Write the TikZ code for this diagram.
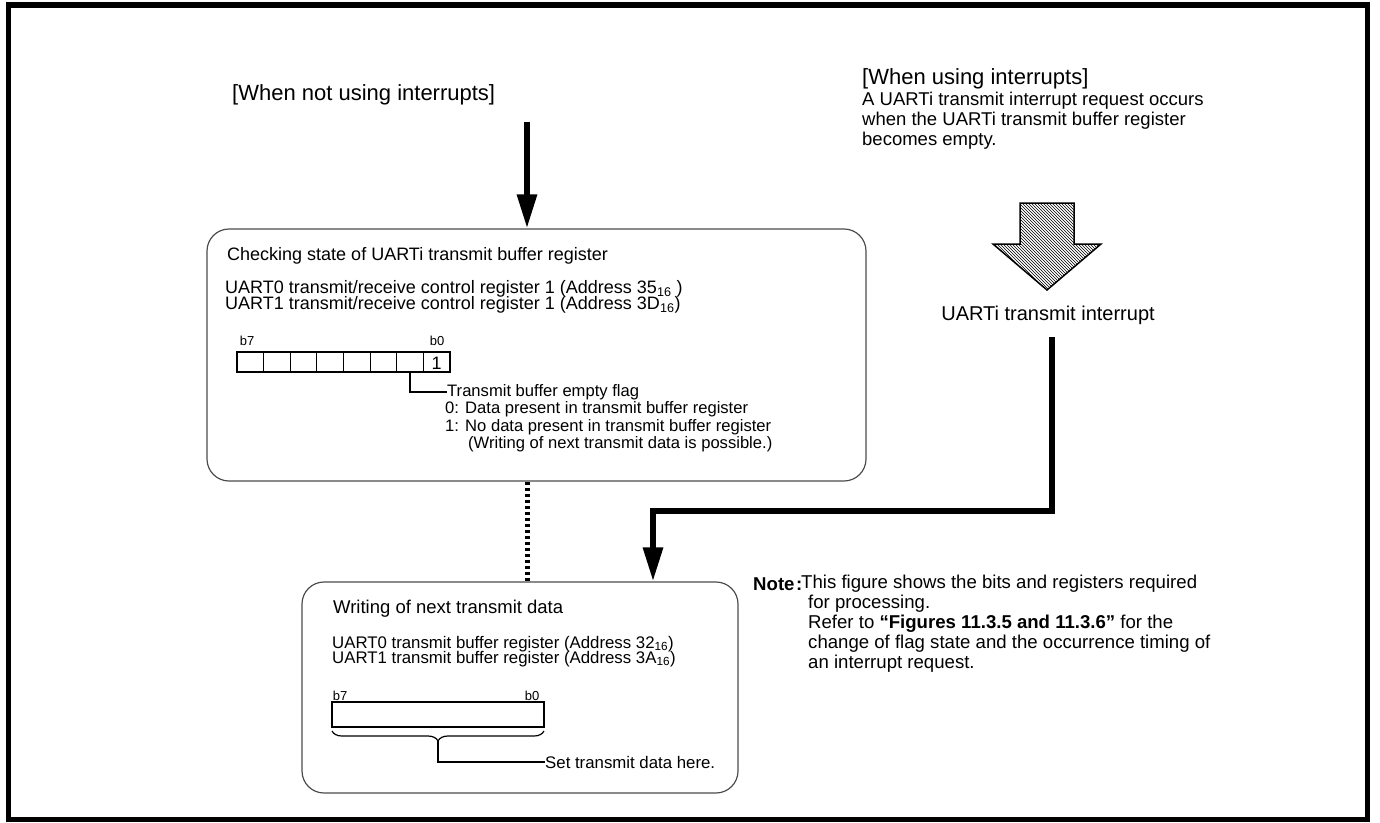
\documentclass[tikz,border=0pt]{standalone}
\usepackage{fontspec}
\setmainfont{Liberation Sans}
\usetikzlibrary{arrows.meta,patterns,decorations.pathreplacing}
\newcommand{\hexsub}[1]{\textsubscript{#1}}

\begin{document}
\begin{tikzpicture}[x=1pt,y=-1pt,
  txt/.style={anchor=west, inner sep=0pt},
  fhead/.style={font=\fontsize{22}{25}\selectfont},
  fbox/.style={font=\fontsize{18}{21}\selectfont},
  fsmall/.style={font=\fontsize{16.6}{19}\selectfont},
  fbit/.style={font=\fontsize{13}{15}\selectfont},
  roundbox/.style={draw=black!70, line width=1.2pt, rounded corners=22pt},
  cell/.style={draw, line width=1.2pt},
  fatarrow/.style={line width=6pt, -{Triangle[width=19pt,length=34pt]}},
  dotline/.style={line width=5pt, dash pattern=on 3.5pt off 2.5pt}]
\useasboundingbox (0,0) rectangle (1380,822);
\draw[line width=5.5pt] (8.5,5) rectangle (1367.5,819.5);

\node[txt, fhead] (nohead) at (232,95) {[When not using interrupts]};
\node[txt, fhead] (ihead) at (862,79) {[When using interrupts]};
\node[txt, font=\fontsize{18.5}{21}\selectfont] (i1) at (862,101) {A UARTi transmit interrupt request occurs};
\node[txt, font=\fontsize{18.5}{21}\selectfont] (i2) at (862,121) {when the UARTi transmit buffer register};
\node[txt, font=\fontsize{18.5}{21}\selectfont] (i3) at (862,141) {becomes empty.};

\node[roundbox, minimum width=659pt, minimum height=252pt] (chk) at (536.5,355) {};
\node[txt, fbox] (chkt) at (227,256) {Checking state of UARTi transmit buffer register};
\node[txt, fbox] (chk0) at (225,289) {UART0 transmit/receive control register 1 (Address 35\hexsub{16} )};
\node[txt, fbox] (chk1) at (225,305) {UART1 transmit/receive control register 1 (Address 3D\hexsub{16})};
\node[fbit, inner sep=0pt] (cb7) at (247,341) {b7};
\node[fbit, inner sep=0pt] (cb0) at (437,341) {b0};
\foreach \i in {0,...,7}
  \draw[cell] ({237+26.625*\i},352) rectangle ++(26.625,20);
\node[fbox, inner sep=0pt] (one) at (436.7,363) {1};
\coordinate (b1) at (410,372);
\node[txt, fsmall] (flag) at (447,392) {Transmit buffer empty flag};
\node[txt, fsmall] (f0) at (445,409) {0: Data present in transmit buffer register};
\node[txt, fsmall] (f1) at (445,427) {1: No data present in transmit buffer register};
\node[txt, fsmall] (f2) at (468,444) {(Writing of next transmit data is possible.)};
\draw[line width=1.2pt] (b1) |- (flag.west);

\draw[pattern=north west lines, line width=1.5pt, line join=miter]
  (1020,203) -- (1074,203) -- (1074,244) -- (1101,244) -- (1047,290)
  -- (993,244) -- (1020,244) -- cycle;
\node[font=\fontsize{20}{24}\selectfont, inner sep=0pt] (irq) at (1048,315) {UARTi transmit interrupt};

\node[roundbox, minimum width=436pt, minimum height=211pt] (wr) at (520,687.5) {};
\node[txt, font=\fontsize{18.5}{21}\selectfont] (wrt) at (333,609) {Writing of next transmit data};
\node[txt, font=\fontsize{16.8}{19}\selectfont] (wr0) at (332,644) {UART0 transmit buffer register (Address 32\hexsub{16})};
\node[txt, font=\fontsize{16.8}{19}\selectfont] (wr1) at (332,659) {UART1 transmit buffer register (Address 3A\hexsub{16})};
\node[fbit, inner sep=0pt] (wb7) at (340,696) {b7};
\node[fbit, inner sep=0pt] (wb0) at (532,696) {b0};
\draw[cell] (332,702) rectangle (544,727);
\draw[line width=1.2pt, decorate, decoration={brace, mirror, amplitude=10pt}] (332,731) -- (544,731);
\coordinate (brtip) at (438,741);
\node[txt, font=\fontsize{16.8}{19}\selectfont] (set) at (545,762) {Set transmit data here.};
\draw[line width=1.2pt] (brtip) |- (set.west);

\coordinate (lstart) at (527,122);
\draw[fatarrow] (lstart) -- (lstart |- chk.north);
\draw[dotline] (lstart |- chk.south) -- (lstart |- wr.north);
\coordinate (rstart) at (1052,337);
\coordinate (rbend) at (653,510.5);
\draw[fatarrow] (rstart) |- (rbend) -- (rbend |- wr.north);

\node[txt, font=\bfseries\fontsize{18.6}{21}\selectfont] (note) at (753,584) {Note\hspace{1.5pt}:};
\node[txt, font=\fontsize{18.6}{21}\selectfont] (n1) at (801,584) {This figure shows the bits and registers required};
\node[txt, font=\fontsize{18.6}{21}\selectfont] (n2) at (808,604) {for processing.};
\node[txt, font=\fontsize{18.6}{21}\selectfont] (n3) at (808,624) {Refer to \textbf{“Figures 11.3.5 and 11.3.6”} for the};
\node[txt, font=\fontsize{18.6}{21}\selectfont] (n4) at (808,644) {change of flag state and the occurrence timing of};
\node[txt, font=\fontsize{18.6}{21}\selectfont] (n5) at (808,664) {an interrupt request.};
\end{tikzpicture}
\end{document}
